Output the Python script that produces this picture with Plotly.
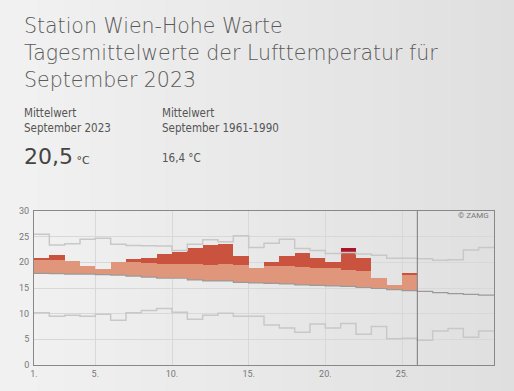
import plotly.graph_objects as go

# ---- data ----
clim_days = list(range(1, 31))
normal = [17.85, 17.8, 17.7, 17.7, 17.6, 17.5, 17.3, 17.1, 16.9, 16.9, 16.6, 16.4, 16.4, 16.1, 16.0,
          15.9, 15.8, 15.6, 15.5, 15.4, 15.3, 15.1, 14.9, 14.7, 14.5, 14.35, 14.1, 13.9, 13.75, 13.6]
upper = [25.45, 23.4, 23.6, 24.5, 24.7, 23.5, 23.3, 23.25, 23.2, 22.3, 23.5, 24.4, 24.0, 25.2, 22.9,
         23.7, 24.5, 22.7, 22.3, 21.7, 21.9, 21.6, 21.4, 20.8, 20.8, 20.7, 20.4, 20.5, 22.4, 22.9]
lower = [10.2, 9.5, 9.7, 9.5, 9.9, 8.7, 10.2, 10.6, 11.0, 10.3, 8.9, 9.7, 10.1, 9.5, 9.5,
         7.8, 7.2, 6.4, 8.0, 7.2, 8.1, 6.0, 7.5, 5.1, 5.2, 4.8, 6.6, 7.1, 5.4, 6.6]
obs_days = list(range(1, 26))
threshold = [20.6, 20.45, 20.4, 20.4, 20.3, 20.2, 20.05, 19.9, 19.7, 19.7, 19.6, 19.5, 19.6, 19.5, 19.4,
             19.3, 19.2, 19.1, 18.95, 18.8, 18.5, 18.4, 18.2, 18.0, 17.6]
actual = [20.8, 21.4, 20.3, 19.25, 18.7, 20.0, 20.65, 20.8, 21.6, 22.0, 22.7, 23.3, 23.5, 21.2, 18.95,
          20.0, 21.2, 21.8, 20.8, 20.1, 22.7, 20.8, 16.9, 15.6, 17.8]
x_ticks = [1, 5, 10, 15, 20, 25]
x_ticktext = ["1.", "5.", "10.", "15.", "20.", "25."]
y_ticks = [0, 5, 10, 15, 20, 25, 30]
last_obs_day = 26
title_lines = ["Station Wien-Hohe Warte", "Tagesmittelwerte der Lufttemperatur für", "September 2023"]

FONT = "DejaVu Sans"
SMALLFONT = "DejaVu Sans Condensed, DejaVu Sans"
TICKFONT = "Roboto"
C_LIGHT = "#E0967A"
C_RED = "#C9533F"
C_DARK = "#A8142A"

fig = go.Figure()

xc = [d + 0.5 for d in obs_days]
norm_obs = normal[:len(obs_days)]
up_obs = upper[:len(obs_days)]
light_top = [min(a, t) for a, t in zip(actual, threshold)]
fig.add_trace(go.Bar(x=xc, base=norm_obs, y=[lt - n for lt, n in zip(light_top, norm_obs)],
                     width=1, marker=dict(color=C_LIGHT, line=dict(width=0)), hoverinfo="skip"))
red_h = [max(0, min(a, u) - t) for a, u, t in zip(actual, up_obs, threshold)]
fig.add_trace(go.Bar(x=xc, base=threshold, y=red_h, width=1,
                     marker=dict(color=C_RED, line=dict(width=0)), hoverinfo="skip"))
dark_h = [max(0, a - u) for a, u in zip(actual, up_obs)]
fig.add_trace(go.Bar(x=xc, base=up_obs, y=dark_h, width=1,
                     marker=dict(color=C_DARK, line=dict(width=0)), hoverinfo="skip"))

xs = clim_days + [clim_days[-1] + 1]
def step(vals, color, w):
    fig.add_trace(go.Scatter(x=xs, y=vals + [vals[-1]], mode="lines", line_shape="hv",
                             line=dict(color=color, width=w), hoverinfo="skip"))
step(upper, "#c8c8c8", 1.5)
step(lower, "#c8c8c8", 1.5)
step(normal, "#9a9a9a", 1.2)

fig.add_vline(x=last_obs_day, line=dict(color="#7a7a7a", width=1))

# background gradient
n = 40
for i in range(n):
    g0 = 0xF1 - int((0xF1 - 0xDF) * i / (n - 1))
    col = f"rgb({g0},{g0},{g0})"
    x0 = -34 / 460 + i * (514 / 460) / n
    fig.add_shape(type="rect", xref="paper", yref="paper", x0=x0, x1=x0 + (514 / 460) / n + 0.002,
                  y0=-26 / 154, y1=365 / 154, fillcolor=col, line=dict(width=0), layer="below")

def px(x):
    return (x - 34) / 460
def py(y):
    return (365 - y) / 154

ann = []
for i, line in enumerate(title_lines):
    ann.append(dict(text=line, x=px(22), y=py(26 + 27 * i), xanchor="left", yanchor="middle", align="left",
                    font=dict(size=20.5, color="#5a5a5a", family=FONT, weight=300)))
ann += [
    dict(text="Mittelwert<br>September 2023", x=px(22), y=py(104), xanchor="left", yanchor="top", align="left",
         font=dict(size=11.5, color="#555555", family=SMALLFONT)),
    dict(text="Mittelwert<br>September 1961-1990", x=px(160), y=py(104), xanchor="left", yanchor="top", align="left",
         font=dict(size=11.5, color="#555555", family=SMALLFONT)),
    dict(text="20,5<span style='font-size:11px'> °C</span>", x=px(22), y=py(156), xanchor="left", yanchor="middle",
         align="left", font=dict(size=22, color="#444444", family=FONT)),
    dict(text="16,4 °C", x=px(160), y=py(158), xanchor="left", yanchor="middle", align="left",
         font=dict(size=11.5, color="#555555", family=SMALLFONT)),
    dict(text="© ZAMG", x=px(491), y=py(215), xanchor="right", yanchor="middle",
         font=dict(size=8, color="#777777", family=TICKFONT)),
]
for a in ann:
    a.update(xref="paper", yref="paper", showarrow=False)
fig.update_layout(annotations=ann)

fig.update_layout(
    width=514, height=391,
    margin=dict(l=34, r=20, t=211, b=26),
    paper_bgcolor="#e9e9e9", plot_bgcolor="rgba(0,0,0,0)",
    barmode="overlay", bargap=0, showlegend=False,
    font=dict(family=TICKFONT, color="#777777", size=9),
)
fig.update_xaxes(range=[1, 31], tickvals=x_ticks, ticktext=x_ticktext, showgrid=True,
                 gridcolor="#d8d8d8", gridwidth=1, showline=True, mirror=True, linecolor="#888888",
                 linewidth=1, zeroline=False, ticks="", tickfont=dict(size=9, color="#777777"))
fig.update_yaxes(range=[0, 30], tickvals=y_ticks, showgrid=True, gridcolor="#d8d8d8", gridwidth=1,
                 showline=True, mirror=True, linecolor="#888888", linewidth=1, zeroline=False,
                 ticks="", ticklabelstandoff=2, tickfont=dict(size=9, color="#777777"))

fig.write_html("out.html", config={"displayModeBar": False},
               post_script="document.body.style.margin='0px';document.body.style.background='#e9e9e9';")
